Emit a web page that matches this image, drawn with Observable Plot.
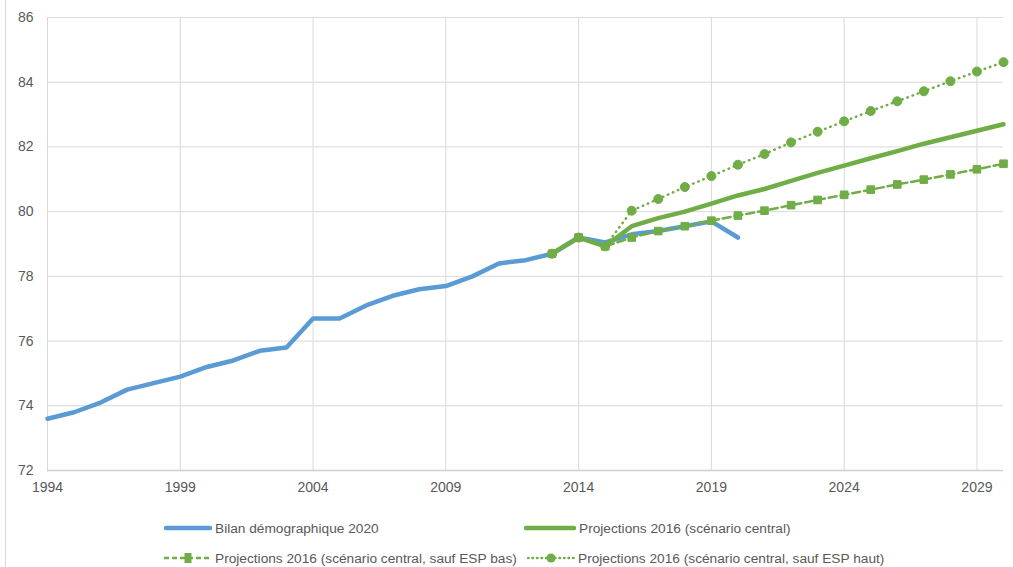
<!DOCTYPE html>
<html><head><meta charset="utf-8">
<script src="https://cdn.jsdelivr.net/npm/d3@7"></script>
<script src="https://cdn.jsdelivr.net/npm/@observablehq/plot@0.6"></script>
<style>
body{margin:0;background:#fff;}
#wrap{position:relative;width:1013px;height:567px;overflow:hidden;background:#fff;}
#border{position:absolute;left:5px;top:0;bottom:0;border-left:1px solid #d9d9d9;}
.leg{position:absolute;font-family:"Liberation Sans",Arial,sans-serif;font-size:13.7px;color:#595959;display:flex;align-items:center;white-space:nowrap;height:20px;}
.leg svg{margin-right:3px;}
</style></head>
<body><div id="wrap"><div id="chart"></div><div id="border"></div></div>
<script>
// ---- data ----
const seriesNames = [
  "Bilan démographique 2020",
  "Projections 2016 (scénario central)",
  "Projections 2016 (scénario central, sauf ESP bas)",
  "Projections 2016 (scénario central, sauf ESP haut)"
];
const histYears = [1994,1995,1996,1997,1998,1999,2000,2001,2002,2003,2004,2005,2006,2007,2008,2009,2010,2011,2012,2013,2014,2015,2016,2017,2018,2019,2020];
const histValues = [73.6,73.8,74.1,74.5,74.7,74.9,75.2,75.4,75.7,75.8,76.7,76.7,77.1,77.4,77.6,77.7,78.0,78.4,78.5,78.7,79.2,79.05,79.3,79.4,79.55,79.7,79.2];
const projYears = [2013,2014,2015,2016,2017,2018,2019,2020,2021,2022,2023,2024,2025,2026,2027,2028,2029,2030];
const centralValues = [78.7,79.2,78.93,79.55,79.8,80.0,80.25,80.5,80.7,80.95,81.2,81.42,81.65,81.87,82.1,82.3,82.5,82.7];
const basValues = [78.7,79.2,78.93,79.2,79.4,79.55,79.72,79.88,80.03,80.2,80.36,80.52,80.68,80.84,80.99,81.15,81.31,81.48];
const hautValues = [78.7,79.2,78.93,80.03,80.39,80.76,81.1,81.45,81.78,82.14,82.47,82.79,83.11,83.41,83.72,84.03,84.33,84.62];
const xTicks = [1994,1999,2004,2009,2014,2019,2024,2029];
const yTicks = [72,74,76,78,80,82,84,86];

const hist = histYears.map((y,i)=>({year:y, value:histValues[i]}));
const central = projYears.map((y,i)=>({year:y, value:centralValues[i]}));
const bas = projYears.map((y,i)=>({year:y, value:basValues[i]}));
const haut = projYears.map((y,i)=>({year:y, value:hautValues[i]}));

const BLUE = "#5b9bd5", GREEN = "#70ad47";
const tickFont = "'Liberation Sans', Arial, sans-serif";

const chart = Plot.plot({
  width: 1013, height: 500,
  marginLeft: 47, marginRight: 10, marginTop: 17, marginBottom: 30,
  x: {domain: [1994, 2030], label: null},
  y: {domain: [72, 86], label: null},
  style: {fontFamily: tickFont, fontSize: "14px", color: "#595959", background: "transparent", overflow: "visible"},
  marks: [
    Plot.gridX(xTicks, {stroke: "#d9d9d9", strokeOpacity: 1, strokeWidth: 1}),
    Plot.gridY(yTicks, {stroke: "#d9d9d9", strokeOpacity: 1, strokeWidth: 1}),
    Plot.axisX(xTicks, {tickSize: 0, tickPadding: 12, tickFormat: d => String(d), label: null, fontSize: 14}),
    Plot.axisY(yTicks, {tickSize: 0, tickPadding: 14, label: null, fontSize: 14}),
    Plot.ruleY([72], {stroke: "#d0d0d0", strokeWidth: 1.5}),
    Plot.line(hist, {x: "year", y: "value", stroke: BLUE, strokeWidth: 4.5, strokeLinejoin: "round", strokeLinecap: "round"}),
    Plot.line(central, {x: "year", y: "value", stroke: GREEN, strokeWidth: 4.5, strokeLinejoin: "round", strokeLinecap: "round"}),
    Plot.line(bas, {x: "year", y: "value", stroke: GREEN, strokeWidth: 2.5, strokeDasharray: "8 4"}),
    Plot.dot(bas, {x: "year", y: "value", symbol: "square", r: 4.3, fill: GREEN, stroke: GREEN, strokeWidth: 1}),
    Plot.line(haut, {x: "year", y: "value", stroke: GREEN, strokeWidth: 2.5, strokeDasharray: "0.5 5", strokeLinecap: "round"}),
    Plot.dot(haut, {x: "year", y: "value", symbol: "circle", r: 4.5, fill: GREEN, stroke: GREEN, strokeWidth: 1})
  ]
});
document.getElementById("chart").appendChild(chart);

// ---- legend ----
const legendItems = [
  {name: seriesNames[0], left: 164, top: 518, kind: "solidBlue"},
  {name: seriesNames[1], left: 524, top: 518, kind: "solidGreen"},
  {name: seriesNames[2], left: 164, top: 548, kind: "dash"},
  {name: seriesNames[3], left: 527, top: 548, kind: "dot"}
];
const wrap = document.getElementById("wrap");
for (const it of legendItems) {
  const div = document.createElement("div");
  div.className = "leg";
  div.style.left = it.left + "px";
  div.style.top = it.top + "px";
  const w = it.kind === "solidGreen" ? 52 : 48;
  let svg = `<svg width="${w}" height="14">`;
  if (it.kind === "solidBlue") svg += `<line x1="2" x2="${w-2}" y1="7" y2="7" stroke="${BLUE}" stroke-width="4.5" stroke-linecap="round"/>`;
  if (it.kind === "solidGreen") svg += `<line x1="2" x2="${w-2}" y1="7" y2="7" stroke="${GREEN}" stroke-width="4.5" stroke-linecap="round"/>`;
  if (it.kind === "dash") svg += `<line x1="0" x2="${w}" y1="7" y2="7" stroke="${GREEN}" stroke-width="2.5" stroke-dasharray="5 3"/><rect x="${w/2-3.5}" y="2" width="7" height="10" fill="${GREEN}"/>`;
  if (it.kind === "dot") svg += `<line x1="1" x2="${w}" y1="7" y2="7" stroke="${GREEN}" stroke-width="2.5" stroke-dasharray="0.5 4" stroke-linecap="round"/><circle cx="${w/2}" cy="7" r="4.5" fill="${GREEN}"/>`;
  svg += `</svg>`;
  div.innerHTML = svg + `<span>${it.name}</span>`;
  wrap.appendChild(div);
}
</script>
</body></html>
